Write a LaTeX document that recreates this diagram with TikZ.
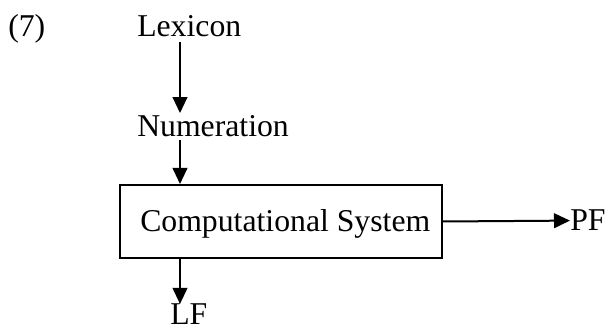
\documentclass[tikz,border=0pt]{standalone}
\usepackage{fontspec}
\setmainfont{Liberation Serif}
\usetikzlibrary{arrows.meta, positioning}
\tikzstyle{arr}  = [draw, line width=1.5pt, -{Triangle[length=12pt, width=11pt]}]
\tikzstyle{txt}  = [anchor=base west, inner sep=0pt, font=\fontsize{23.8}{28}\selectfont]
\tikzstyle{box}  = [draw, line width=1.5pt, minimum width=241.5pt, minimum height=54.75pt, inner sep=0pt]

\begin{document}
\begin{tikzpicture}[x=0.75pt, y=-0.75pt]

\useasboundingbox (0,0) rectangle (608,327);

% nodes
\node [txt]  at (  8  ,  37  ) (ex)   {(7)};
\node [txt]  at (137  ,  37  ) (lex)  {Lexicon};
\node [txt]  at (137  , 137  ) (num)  {Numeration};
\node [box]  at (281  , 221.5) (cs)   {};
\node [txt]  at (140  , 232  ) (cst)  {Computational System};
\node [txt]  at (570  , 231  ) (pf)   {PF};
\node [txt]  at (170  , 325  ) (lf)   {LF};
\coordinate (spine) at (180, 0);

% edges
\path [arr] ([yshift=-3pt]lex.south -| spine) -- ([yshift=2pt]num.north -| spine);
\path [arr] ([yshift=-2pt]num.south -| spine) -- (cs.north -| spine);
\path [arr] (cs.east)                         -- (pf.west);
\path [arr] (cs.south -| spine)               -- (lf.north -| spine);

\end{tikzpicture}
\end{document}
